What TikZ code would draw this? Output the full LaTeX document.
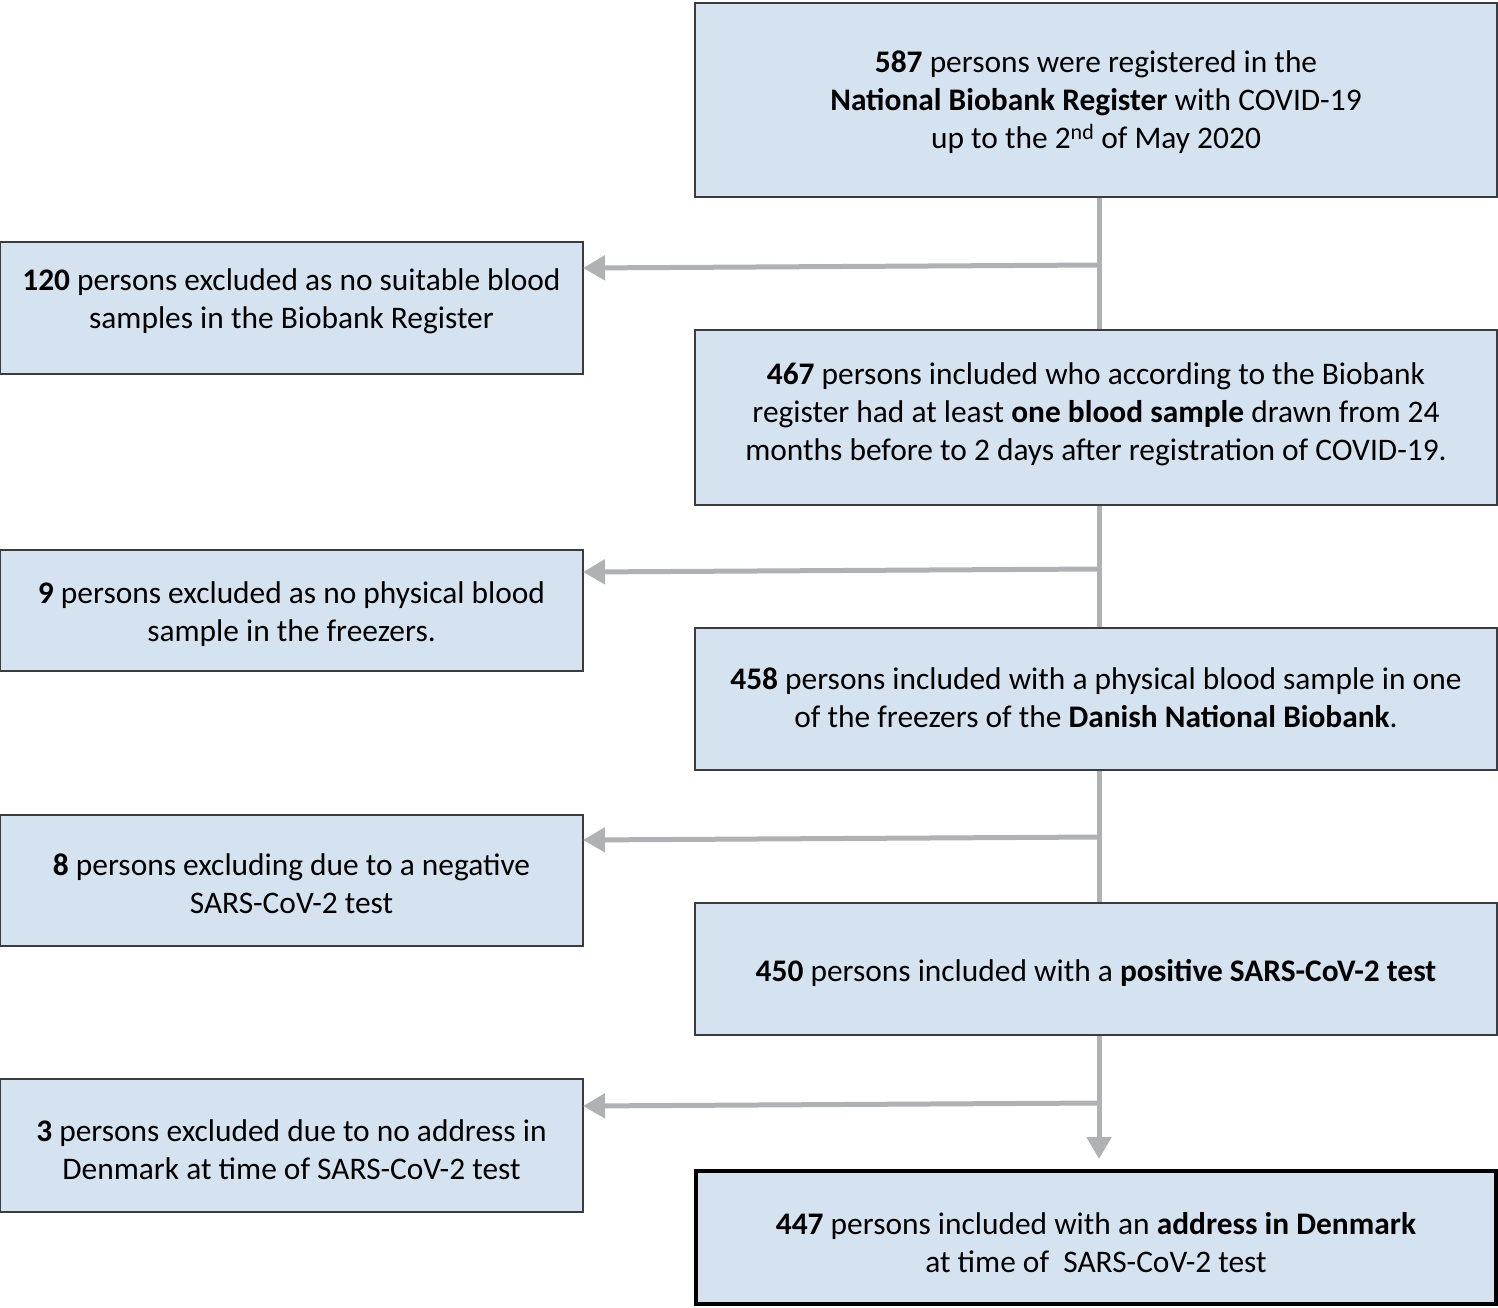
\documentclass[tikz,border=0pt]{standalone}
\usepackage{fontspec}
\setmainfont{Carlito}
\usetikzlibrary{arrows.meta}
\definecolor{boxfill}{RGB}{213,227,240}
\definecolor{boxline}{RGB}{60,60,60}
\definecolor{arrgray}{RGB}{176,177,180}
\tikzset{
  box/.style={draw=boxline, line width=1.2pt, fill=boxfill, rectangle, inner sep=0pt},
  txt/.style={align=center, font=\fontsize{31.4pt}{38pt}\selectfont, inner sep=0pt, yshift=-3pt},
  conn/.style={draw=arrgray, line width=5pt},
  arr/.style={conn, -{Triangle[length=22pt,width=24pt]}},
}
\begin{document}
\begin{tikzpicture}[x=1pt,y=-1pt]
\useasboundingbox (0,0) rectangle (1498,1307);
% right column boxes
\node[box, minimum width=802pt, minimum height=194pt] (A) at (1096,100) {};
\node[txt] (tA) at (1096,99) {\textbf{587} persons were registered in the\\\textbf{National Biobank Register} with COVID-19\\up to the 2\textsuperscript{nd} of May 2020};
\node[box, minimum width=802pt, minimum height=175pt] (B) at (1096,417.5) {};
\node[txt] (tB) at (1096,411) {\textbf{467} persons included who according to the Biobank\\register had at least \textbf{one blood sample} drawn from 24\\months before to 2 days after registration of COVID-19.};
\node[box, line width=2pt, minimum width=802pt, minimum height=142pt] (C) at (1096,699) {};
\node[txt] (tC) at (1096,695) {\textbf{458} persons included with a physical blood sample in one\\of the freezers of the \textbf{Danish National Biobank}.};
\node[box, minimum width=802pt, minimum height=132pt] (D) at (1096,969) {};
\node[txt] (tD) at (1096,970) {\textbf{450} persons included with a \textbf{positive SARS-CoV-2 test}};
\node[box, draw=black, line width=4.5pt, minimum width=800pt, minimum height=133pt] (E) at (1096,1237.5) {};
\node[txt] (tE) at (1096,1240) {\textbf{447} persons included with an \textbf{address in Denmark}\\at time of\ \ SARS-CoV-2 test};
% left column boxes
\node[box, minimum width=583pt, minimum height=132pt] (L1) at (291.5,308) {};
\node[txt] (tL1) at (291.5,298) {\textbf{120} persons excluded as no suitable blood\\samples in the Biobank Register};
\node[box, minimum width=583pt, minimum height=121pt] (L2) at (291.5,610.5) {};
\node[txt] (tL2) at (291.5,611) {\textbf{9} persons excluded as no physical blood\\sample in the freezers.};
\node[box, minimum width=583pt, minimum height=131pt] (L3) at (291.5,880.5) {};
\node[txt] (tL3) at (291.5,881) {\textbf{8} persons excluding due to a negative\\SARS-CoV-2 test};
\node[box, minimum width=583pt, minimum height=133pt] (L4) at (291.5,1145.5) {};
\node[txt] (tL4) at (291.5,1147) {\textbf{3} persons excluded due to no address in\\Denmark at time of SARS-CoV-2 test};
% junction coordinates
\coordinate (j1) at (1099,265);
\coordinate (j2) at (1099,569);
\coordinate (j3) at (1099,837);
\coordinate (j4) at (1099,1103);
\coordinate (e1) at (583,268);
\coordinate (e2) at (583,572);
\coordinate (e3) at (583,840);
\coordinate (e4) at (583,1106);
\coordinate (eE) at (1099,1159);
% vertical connectors
\draw[conn] (A.south -| j1) -- (B.north -| j1);
\draw[conn] (B.south -| j1) -- (C.north -| j1);
\draw[conn] (C.south -| j1) -- (D.north -| j1);
\draw[arr] (D.south -| j1) -- (eE);
% side arrows
\draw[arr] (j1) -- (e1);
\draw[arr] (j2) -- (e2);
\draw[arr] (j3) -- (e3);
\draw[arr] (j4) -- (e4);
\end{tikzpicture}
\end{document}
